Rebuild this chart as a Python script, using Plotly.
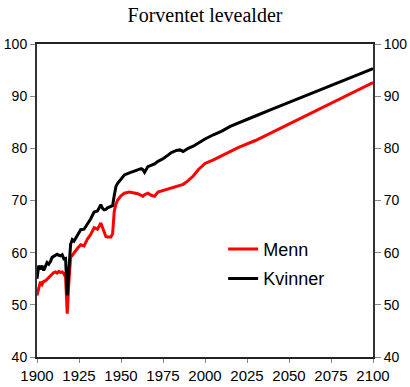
import plotly.graph_objects as go

years = [1900, 1901, 1902, 1903, 1904, 1905, 1906, 1907, 1908, 1909, 1910,
         1911, 1912, 1913, 1914, 1915, 1916, 1917, 1918, 1919, 1920, 1921,
         1922, 1924, 1926, 1928, 1930, 1932, 1934, 1936, 1938, 1939, 1940,
         1941, 1942, 1944, 1945, 1946, 1947, 1948, 1950, 1952, 1955, 1958,
         1960, 1962, 1963, 1964, 1966, 1968, 1970, 1972, 1975, 1978, 1980,
         1983, 1985, 1987, 1990, 1993, 1996, 2000, 2005, 2010, 2015, 2020,
         2030, 2040, 2050, 2060, 2070, 2080, 2090, 2100]

menn = [51.8, 53.2, 54.4, 53.9, 54.5, 54.6, 54.9, 55.2, 55.5, 55.9, 56.2,
        56.3, 56.1, 56.4, 56.2, 56.3, 56.0, 55.3, 48.3, 54.5, 59.1, 59.5,
        60.0, 60.8, 61.5, 61.3, 62.6, 63.5, 64.8, 64.5, 65.7, 64.8, 63.6,
        63.1, 63.0, 63.0, 63.6, 68.0, 69.3, 70.1, 70.9, 71.4, 71.6, 71.5,
        71.3, 71.0, 70.8, 71.1, 71.4, 71.0, 70.8, 71.6, 71.9, 72.3, 72.5,
        72.8, 73.0, 73.1, 73.8, 74.7, 75.9, 77.1, 77.8, 78.6, 79.4, 80.2,
        81.5, 83.1, 84.7, 86.3, 87.9, 89.4, 91.0, 92.6]

kvinner = [55.0, 57.5, 56.8, 57.5, 56.6, 57.4, 58.1, 57.8, 58.3, 59.1, 59.3,
           59.6, 59.7, 59.5, 59.4, 59.6, 58.8, 58.9, 51.8, 56.8, 61.6, 62.5,
           62.2, 63.3, 64.4, 64.5, 65.5, 66.5, 67.8, 68.0, 69.2, 68.5, 68.2,
           68.3, 68.6, 68.8, 69.0, 71.0, 72.7, 73.3, 74.2, 74.9, 75.3, 75.6,
           75.8, 76.1, 75.9, 75.4, 76.5, 76.8, 77.0, 77.5, 78.0, 78.7, 79.2,
           79.6, 79.7, 79.4, 80.0, 80.4, 81.0, 81.8, 82.6, 83.3, 84.2, 84.9,
           86.2, 87.5, 88.8, 90.2, 91.5, 92.8, 94.1, 95.3]

x_ticks = [1900, 1925, 1950, 1975, 2000, 2025, 2050, 2075, 2100]
y_ticks = [40, 50, 60, 70, 80, 90, 100]

fig = go.Figure()
fig.add_trace(go.Scatter(x=years, y=menn, mode="lines", name="Menn",
                         legendgroup="m",
                         line=dict(color="#ff0000", width=3)))
fig.add_trace(go.Scatter(x=years, y=kvinner, mode="lines", name="Kvinner",
                         legendgroup="k", yaxis="y2",
                         line=dict(color="#000000", width=3)))

yfont = dict(family="Liberation Sans, Arial, sans-serif", size=14, color="#000")
xfont = dict(family="Liberation Sans, Arial, sans-serif", size=15, color="#000")

fig.update_layout(
    width=410, height=387,
    margin=dict(l=37, r=37, t=44, b=30),
    paper_bgcolor="white", plot_bgcolor="white",
    title=dict(text="Forventet levealder", x=0.5, xanchor="center",
               y=0.962, yanchor="middle",
               font=dict(family="Liberation Serif, Times New Roman, serif",
                         size=20, color="#000")),
    xaxis=dict(range=[1900, 2100], tickvals=x_ticks, showgrid=False,
               zeroline=False, showline=True, linecolor="#222", linewidth=1.5,
               mirror=True, ticks="outside", ticklen=4, tickcolor="#888",
               tickfont=xfont, automargin=False),
    yaxis=dict(range=[40, 100], tickvals=y_ticks, showgrid=False,
               zeroline=False, showline=True, linecolor="#333", linewidth=2,
               ticks="outside", ticklen=5, tickcolor="#888",
               tickfont=yfont, automargin=False),
    yaxis2=dict(range=[40, 100], tickvals=y_ticks, overlaying="y",
                side="right", showgrid=False, zeroline=False, showline=True,
                linecolor="#333", linewidth=2, ticks="outside", ticklen=6,
                tickcolor="#888", tickfont=yfont, automargin=False),
    legend=dict(x=0.554, y=0.403, xanchor="left", yanchor="top",
                bgcolor="rgba(0,0,0,0)", traceorder="grouped",
                tracegroupgap=3,
                font=dict(family="Liberation Sans, Arial, sans-serif",
                          size=18, color="#000")),
    showlegend=True,
)

fig.write_html("out.html",
               config={"displayModeBar": False},
               post_script="document.body.style.margin='0px';"
                           "document.body.style.overflow='hidden';")
